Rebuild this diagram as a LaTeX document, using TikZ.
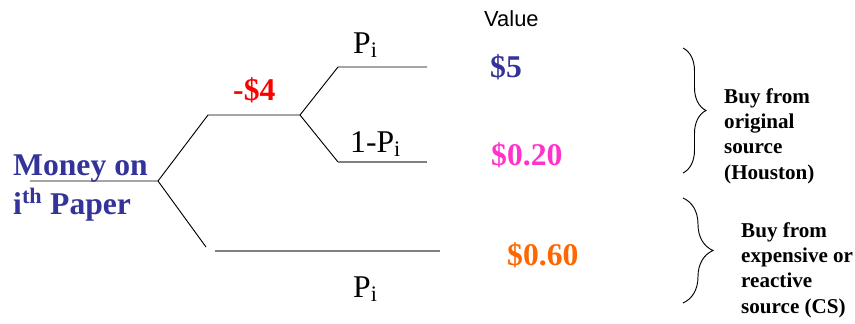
\documentclass[tikz,border=0pt]{standalone}
\usepackage{fontspec}
\setmainfont{Liberation Serif}
\newfontfamily\valuefont{Liberation Sans}
\newfontfamily\payfont{Liberation Serif Bold}
\usetikzlibrary{decorations.pathreplacing}
\definecolor{moneyblue}{RGB}{51,51,153}
\definecolor{pinkval}{RGB}{255,51,204}
\definecolor{orangeval}{RGB}{255,102,0}

\begin{document}
\begin{tikzpicture}[x=0.03cm,y=-0.03cm,
        branch/.style={line width=0.8pt},
        greybranch/.style={line width=1.2pt, gray},
        prob/.style={anchor=base west, inner sep=0pt, font=\fontsize{27}{30}\selectfont},
        payoff/.style={anchor=base west, inner sep=0pt, font=\payfont\fontsize{27}{30}\selectfont},
        choice/.style={anchor=north west, inner sep=0pt, align=left, font=\payfont\fontsize{18}{21.7}\selectfont}]
        \useasboundingbox (0,0) rectangle (855,323);

        % tree points
        \coordinate (start) at (30,181);
        \coordinate (root) at (158,181);
        \coordinate (up) at (208,115);
        \coordinate (mid) at (300,115);
        \coordinate (hiA) at (338,67);
        \coordinate (hiB) at (427,67);
        \coordinate (loA) at (338,162);
        \coordinate (loB) at (427,162);
        \coordinate (dn) at (206,247);
        \coordinate (botA) at (215,251);
        \coordinate (botB) at (440,251);

        \draw[branch] (start) -- (root) -- (up) -- (mid);
        \draw[branch] (mid) -- (hiA) -- (hiB);
        \draw[branch] (mid) -- (loA);
        \draw[greybranch] (loA) -- (loB);
        \draw[branch] (root) -- (dn);
        \draw[greybranch] (botA) -- (botB);

        \node[payoff, moneyblue] (money) at (13,175.7) {Money on};
        \node[payoff, moneyblue] (paper) at (13,214) {i\textsuperscript{th} Paper};

        \node[prob] (phi) at (353,53) {P\textsubscript{i}};
        \node[prob] (plo) at (350,152) {1-P\textsubscript{i}};
        \node[prob] (pbot) at (353,297) {P\textsubscript{i}};
        \node[payoff, red] (cost) at (233,100) {-\$4};

        \node[anchor=base west, inner sep=0pt, font=\valuefont\fontsize{18.7}{22}\selectfont] (value) at (484,26) {Value};
        \node[payoff, moneyblue] (five) at (490,77) {\$5};
        \node[payoff, pinkval] (twenty) at (491,165) {\$0.20};
        \node[payoff, orangeval] (sixty) at (507,265) {\$0.60};

        % braces
        \draw[decorate, decoration={brace, amplitude=0.69cm}, line width=0.8pt]
        (683,48) -- (683,173);
        \draw[decorate, decoration={brace, amplitude=0.9cm}, line width=0.8pt]
        (683,198) -- (683,303);

        \node[choice] (houston) at (724,88) {Buy from\\original\\source\\(Houston)};
        \node[choice] (cs) at (741,222) {Buy from\\expensive or\\reactive\\source (CS)};
    \end{tikzpicture}
\end{document}
